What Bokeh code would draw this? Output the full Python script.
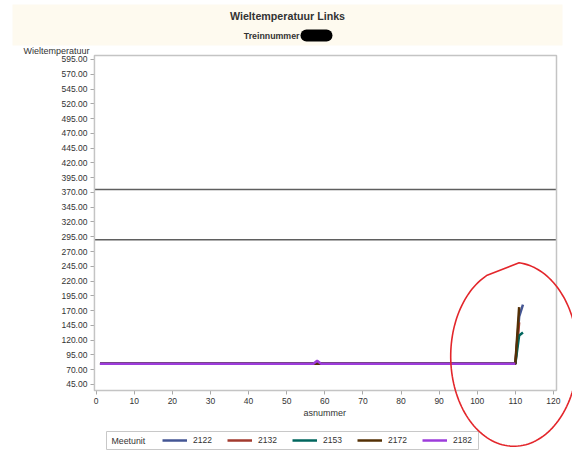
import numpy as np
from bokeh.plotting import figure
from bokeh.models import (Range1d, FixedTicker, NumeralTickFormatter, Label,
                          Legend, LegendItem, BoxAnnotation, PolyAnnotation)
from bokeh.embed import file_html
from bokeh.resources import INLINE

# ---------------- data ----------------
units = ["2122", "2132", "2153", "2172", "2182"]
unit_colors = ["#445694", "#A23A2E", "#01665E", "#543005", "#9D3CDB"]

axles_2122 = [1, 110, 111, 112]
temp_2122 = [80, 80, 160, 180]
axles_2132 = [1, 110, 111]
temp_2132 = [80, 80, 150]
axles_2153 = [1, 110, 111, 112]
temp_2153 = [80, 80, 128, 133]
axles_2172 = [1, 110, 111]
temp_2172 = [80, 80, 176]
axles_2182 = [1, 57, 58, 59, 110]
temp_2182 = [80, 80, 85, 80, 80]

limit_lines = [375, 290]
y_ticks = list(range(45, 596, 25))
x_ticks = list(range(0, 121, 10))

title_text = "Wieltemperatuur Links"
subtitle_text = "Treinnummer"
y_label = "Wieltemperatuur"
x_label = "asnummer"
legend_title = "Meetunit"

# plot box (data units) and the whole canvas range
BOX_X0, BOX_X1 = -0.45, 120.8
BOX_Y0, BOX_Y1 = 34.8, 601.8
X_RANGE = (-25.1, 125.0)
Y_RANGE = (-70.1, 694.8)

# hand-drawn red ring (annotation, data units)
RING_X, RING_Y = 109.5, 94
RING_RX, RING_RY = 16.3, 150

FONT = "Liberation Sans"
TXT = "#333333"
W, H = 572, 452

series = [
    (axles_2122, temp_2122),
    (axles_2132, temp_2132),
    (axles_2153, temp_2153),
    (axles_2172, temp_2172),
    (axles_2182, temp_2182),
]

p = figure(width=W, height=H,
           x_range=Range1d(*X_RANGE), y_range=Range1d(*Y_RANGE),
           output_backend="svg", toolbar_location=None,
           min_border=0, min_border_left=0, min_border_right=0,
           min_border_top=0, min_border_bottom=0,
           background_fill_color="white", border_fill_color="white")
p.grid.visible = False
p.outline_line_color = None

# axes at fixed positions on the plot box
p.xaxis.fixed_location = BOX_Y0
p.yaxis.fixed_location = BOX_X0
for ax in (p.xaxis[0], p.yaxis[0]):
    ax.axis_line_color = None
    ax.major_tick_line_color = "#a8a8a8"
    ax.minor_tick_line_color = None
    ax.major_tick_out = 4
    ax.major_tick_in = 0
    ax.major_label_text_font = FONT
    ax.major_label_text_font_size = "8.5px"
    ax.major_label_text_color = TXT
    ax.major_label_standoff = 3
p.xaxis.ticker = FixedTicker(ticks=x_ticks)
p.yaxis.ticker = FixedTicker(ticks=y_ticks)
p.yaxis.formatter = NumeralTickFormatter(format="0.00")

# title band
p.add_layout(BoxAnnotation(left=12, right=562, top=H - 4, bottom=H - 45,
                           left_units="screen", right_units="screen",
                           top_units="screen", bottom_units="screen",
                           fill_color="#fefaef", fill_alpha=1.0, line_alpha=0,
                           level="underlay"))
p.add_layout(Label(x=287, y=H - 15, x_units="screen", y_units="screen", text=title_text,
                   text_font=FONT, text_font_size="10.7px", text_font_style="bold",
                   text_color=TXT, text_align="center", text_baseline="middle"))
p.add_layout(Label(x=299, y=H - 35, x_units="screen", y_units="screen", text=subtitle_text,
                   text_font=FONT, text_font_size="8.8px", text_font_style="bold",
                   text_color=TXT, text_align="right", text_baseline="middle"))
p.add_layout(BoxAnnotation(left=300, right=332, top=H - 29, bottom=H - 41,
                           left_units="screen", right_units="screen",
                           top_units="screen", bottom_units="screen",
                           fill_color="black", fill_alpha=1.0, line_alpha=0,
                           border_radius=6))

# axis titles
p.add_layout(Label(x=23, y=H - 50, x_units="screen", y_units="screen", text=y_label,
                   text_font=FONT, text_font_size="9px", text_color=TXT,
                   text_align="left", text_baseline="middle"))
p.add_layout(Label(x=60, y=H - 412, x_units="data", y_units="screen", text=x_label,
                   text_font=FONT, text_font_size="9px", text_color=TXT,
                   text_align="center", text_baseline="middle"))

# limit lines
p.segment(x0=BOX_X0, x1=BOX_X1, y0=limit_lines, y1=limit_lines,
          line_color="#5f5f5f", line_width=1.6)

renderers = []
for (xs, ys), c in zip(series, unit_colors):
    renderers.append(p.line(xs, ys, line_color=c, line_width=2.5))

# plot box outline
p.add_layout(BoxAnnotation(left=BOX_X0, right=BOX_X1, bottom=BOX_Y0, top=BOX_Y1,
                           fill_alpha=0, line_color="#c4c4c4", line_width=1.5, line_alpha=1))

# legend box + title
p.add_layout(BoxAnnotation(left=106, right=478, top=H - 431, bottom=H - 449,
                           left_units="screen", right_units="screen",
                           top_units="screen", bottom_units="screen",
                           fill_color="white", fill_alpha=1.0,
                           line_color="#c8c8c8", line_width=1, line_alpha=1,
                           level="underlay"))
p.add_layout(Label(x=111, y=H - 440, x_units="screen", y_units="screen", text=legend_title,
                   text_font=FONT, text_font_size="8.8px", text_color=TXT,
                   text_baseline="middle", text_align="left"))

legend = Legend(items=[LegendItem(label=u, renderers=[r]) for u, r in zip(units, renderers)],
                orientation="horizontal", location=(159, H - 449), margin=0, padding=3,
                glyph_width=25, glyph_height=12, label_height=12, label_width=20,
                label_standoff=6, spacing=14,
                label_text_font=FONT, label_text_font_size="8.5px", label_text_color=TXT,
                border_line_alpha=0, background_fill_alpha=0)
p.add_layout(legend, "center")

# hand-drawn red ring
t = np.linspace(np.radians(115), np.radians(360 + 85), 140)
grow = np.linspace(1.0, 1.05, t.size)
ring_xs = (RING_X + RING_RX * np.cos(t) * grow).tolist()
ring_ys = (RING_Y + RING_RY * np.sin(t) * grow).tolist()
p.add_layout(PolyAnnotation(xs=ring_xs, ys=ring_ys, fill_alpha=0, line_alpha=1,
                            line_color="#e3262b", line_width=1.6, level="overlay"))

open("out.html", "w").write(file_html(p, INLINE))
